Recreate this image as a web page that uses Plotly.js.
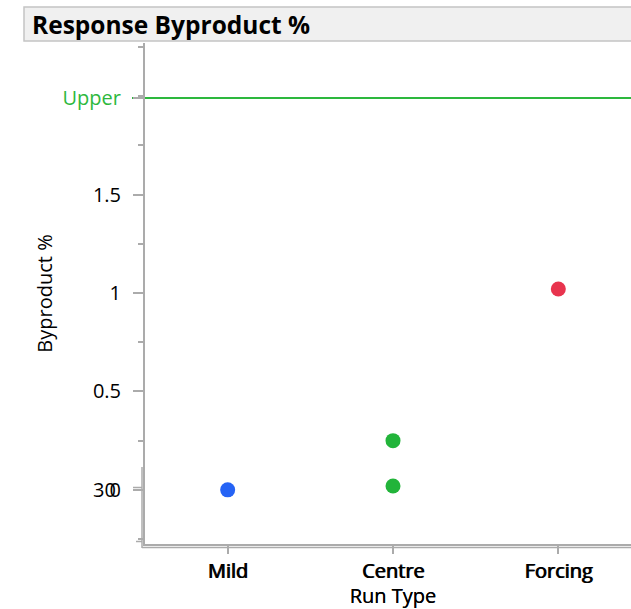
<!DOCTYPE html>
<html>
<head>
<meta charset="utf-8">
<script src="https://cdn.plot.ly/plotly-3.0.1.min.js"></script>
<style>html,body{margin:0;padding:0;background:#fff;overflow:hidden;}</style>
</head>
<body>
<div id="chart" style="width:641px;height:609px;"></div>
<script>
// ---- data ----
const categories = ['Mild', 'Centre', 'Forcing'];
const runTypes = ['Mild', 'Centre', 'Centre', 'Forcing'];
const byproduct = [0.0, 0.25, 0.02, 1.02];
const upperLimit = 1.99;
const yTickVals = [0, 0.5, 1, 1.5];
const yTickText = ['0', '0.5', '1', '1.5'];
const upperLabel = 'Upper';
const ghostLabel = '30';
const chartTitle = 'Response Byproduct %';
const xTitle = 'Run Type';
const yTitle = 'Byproduct %';

// ---- styles ----
const colorByType = {Mild: '#2563F5', Centre: '#22B43A', Forcing: '#E8344E'};
const green = '#2DB83D';
const axisGray = '#ababab';
const FONT = 'Open Sans, Noto Sans, sans-serif';
const FS = 20;

const W = 641, H = 609, L = 145, T = 43, B = 65;
const plotW = W - L, plotH = H - T - B;
const px = x => (x - L) / plotW;        // pixel x -> paper
const py = y => (H - B - y) / plotH;    // pixel y -> paper

const traces = [
  {
    type: 'scatter', mode: 'markers',
    x: runTypes, y: byproduct,
    marker: {size: 15, color: runTypes.map(t => colorByType[t])},
    hoverinfo: 'x+y', cliponaxis: false
  },
  {
    type: 'scatter', mode: 'markers',
    x: runTypes, y: byproduct, xaxis: 'x2',
    marker: {size: 1, opacity: 0}, hoverinfo: 'skip', showlegend: false
  }
];

const tf = {family: FONT, size: FS, color: '#000'};

const layout = {
  width: W, height: H,
  margin: {l: L, r: 0, t: T, b: B, pad: 0},
  paper_bgcolor: '#fff', plot_bgcolor: '#fff',
  showlegend: false,
  font: tf,
  xaxis: {
    type: 'category', categoryorder: 'array', categoryarray: categories,
    range: [-0.5, 2.5], automargin: false,
    showline: true, linecolor: axisGray, linewidth: 2,
    ticks: 'outside', ticklen: 8, tickwidth: 2, tickcolor: axisGray,
    showgrid: false, zeroline: false,
    tickfont: tf,
    title: {text: xTitle, font: tf, standoff: 8}
  },
  xaxis2: {
    type: 'category', categoryorder: 'array', categoryarray: categories,
    range: [-0.5, 2.5], overlaying: 'x', anchor: 'y', side: 'bottom',
    automargin: false, showline: false, showgrid: false, zeroline: false,
    ticks: 'outside', ticklen: 8, tickcolor: 'rgba(0,0,0,0)',
    ticklabelshift: 1, ticklabelstandoff: 1,
    tickfont: tf,
    title: {text: xTitle, font: tf, standoff: 9}
  },
  yaxis: {
    range: [-0.275, 2.27], automargin: false,
    tickvals: yTickVals.concat([upperLimit]),
    ticktext: yTickText.concat(["<span style='color:" + green + "'>" + upperLabel + "</span>"]),
    showline: true, linecolor: axisGray, linewidth: 2,
    ticks: 'outside', ticklen: 10, tickwidth: 2, tickcolor: axisGray,
    ticklabelstandoff: 8,
    minor: {dtick: 0.25, tick0: 0, ticks: 'outside', ticklen: 5, tickwidth: 2, tickcolor: axisGray, showgrid: false},
    showgrid: false, zeroline: false,
    tickfont: tf,
    title: {text: yTitle, font: tf, standoff: 5}
  },
  shapes: [
    // title bar
    {type: 'rect', xref: 'paper', yref: 'paper', x0: px(24), x1: px(650), y0: py(41), y1: py(7),
     fillcolor: '#f0f0f0', line: {color: '#c4c4c4', width: 1.5}, layer: 'above'},
    // upper limit line
    {type: 'line', xref: 'paper', yref: 'y', x0: px(132), x1: 1, y0: upperLimit, y1: upperLimit,
     line: {color: green, width: 2}, layer: 'below'},
    // ghost axis lines
    {type: 'line', xref: 'paper', yref: 'paper', x0: px(142), x1: px(142), y0: py(467), y1: py(548),
     line: {color: axisGray, width: 1.5}},
    {type: 'line', xref: 'paper', yref: 'paper', x0: px(142), x1: 1, y0: py(547.5), y1: py(547.5),
     line: {color: axisGray, width: 1.5}},
    {type: 'line', xref: 'paper', yref: 'paper', x0: px(133), x1: px(142), y0: py(487.5), y1: py(487.5),
     line: {color: axisGray, width: 1.5}},
    {type: 'line', xref: 'paper', yref: 'paper', x0: px(136), x1: px(142), y0: py(541.5), y1: py(541.5),
     line: {color: axisGray, width: 1.5}}
  ],
  annotations: [
    {xref: 'paper', yref: 'paper', x: px(30), y: py(24), xanchor: 'left', yanchor: 'middle',
     text: '<b>' + chartTitle + '</b>', showarrow: false,
     font: {family: FONT, size: 24.5, color: '#000'}},
    {xref: 'paper', yref: 'y', x: px(118), y: 0, xanchor: 'right', yanchor: 'middle',
     text: ghostLabel, showarrow: false, font: tf}
  ]
};

Plotly.newPlot('chart', traces, layout, {displayModeBar: false, staticPlot: true});
</script>
</body>
</html>
